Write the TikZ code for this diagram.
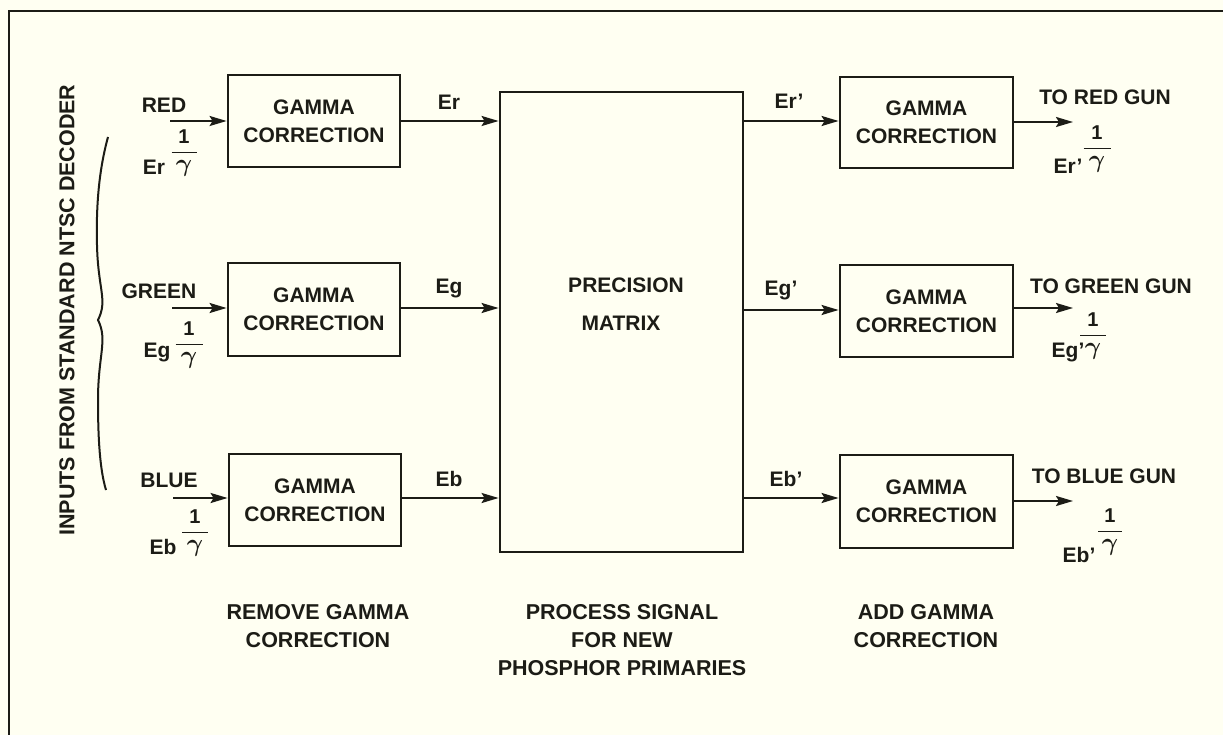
\documentclass[tikz,border=0pt]{standalone}
\usepackage{fontspec}
\usepackage{amsmath}
\setmainfont{Liberation Sans}
\usetikzlibrary{arrows.meta}
\definecolor{paper}{HTML}{FFFFF2}
\definecolor{ink}{HTML}{1C1C16}
\newcommand{\gden}{\mbox{\fontsize{26}{28}\selectfont$\boldsymbol\gamma$}}
\begin{document}
\begin{tikzpicture}[x=1pt,y=-1pt,
  every node/.style={font=\fontsize{21}{28}\selectfont\bfseries, text=ink, inner sep=0pt, align=center},
  blk/.style={draw=ink, line width=2.8pt},
  gam/.style={blk, minimum width=172pt, minimum height=92pt},
  sig/.style={draw=ink, line width=2.2pt, -{Stealth[length=17pt,width=10pt,inset=3pt]}},
  frc/.style={font=\fontsize{20}{22}\selectfont\bfseries},
  captxt/.style={font=\fontsize{21.5}{28}\selectfont\bfseries},
  frame/.style={draw=ink, line width=2.8pt}]
\useasboundingbox (0,0) rectangle (1223,735);
\fill[paper] (0,0) rectangle (1223,735);
\draw[frame] (9,735) -- (9,11) -- (1223,11);

% side label and brace
\node[rotate=90, font=\fontsize{21.5}{26}\selectfont\bfseries] (side) at (67,310) {INPUTS FROM STANDARD NTSC DECODER};
\draw[draw=ink, line width=2pt] (108,137) .. controls (99,170) and (96,205) .. (97,245)
  .. controls (98,290) and (108,300) .. (98,320)
  .. controls (108,340) and (98,355) .. (98,400)
  .. controls (98,440) and (100,470) .. (106,490);

% left gamma boxes
\node[gam] (g1) at (314,121) {GAMMA\\CORRECTION};
\node[gam, minimum height=93pt] (g2) at (314,309.5) {GAMMA\\CORRECTION};
\node[gam] (g3) at (315,500) {GAMMA\\CORRECTION};

% matrix
\node[blk, minimum width=243pt, minimum height=460pt] (mat) at (621.5,322) {};
\node (mtxt1) at (626,285) {PRECISION};
\node (mtxt2) at (621,323) {MATRIX};

% right gamma boxes
\node[gam, minimum width=173pt, minimum height=91pt] (h1) at (926.5,122.5) {GAMMA\\CORRECTION};
\node[gam, minimum width=173pt] (h2) at (926.5,311) {GAMMA\\CORRECTION};
\node[gam, minimum width=173pt, minimum height=93pt] (h3) at (926.5,501.5) {GAMMA\\CORRECTION};

% inputs
\coordinate (inR) at (170,121);
\coordinate (inG) at (172,308);
\coordinate (inB) at (173,498);
\draw[sig] (inR) -- (inR -| g1.west);
\draw[sig] (inG) -- (inG -| g2.west);
\draw[sig] (inB) -- (inB -| g3.west);
\node (lr) at (164,105) {RED};
\node (lg) at (159,291) {GREEN};
\node (lb) at (169,480) {BLUE};
\node (er0) at (154,167) {Er};
\node (eg0) at (157,353) {Eg};
\node (eb0) at (163,547) {Eb};
\node[frc] (fr1) at (184,153) {$\dfrac{\hbox to 25pt{\hss 1\hss}}{\gden}$};
\node[frc] (fr2) at (189,345) {$\dfrac{\hbox to 27pt{\hss 1\hss}}{\gden}$};
\node[frc] (fr3) at (195,533) {$\dfrac{\hbox to 26pt{\hss 1\hss}}{\gden}$};

% left boxes to matrix
\coordinate (mR) at (g1.east |- 0,121);
\coordinate (mG) at (g2.east |- 0,308);
\coordinate (mB) at (g3.east |- 0,498);
\draw[sig] (mR) -- (mR -| mat.west);
\draw[sig] (mG) -- (mG -| mat.west);
\draw[sig] (mB) -- (mB -| mat.west);
\node (er1) at (449,102) {Er};
\node (eg1) at (449,289) {Eg};
\node (eb1) at (449,479) {Eb};

% matrix to right boxes
\coordinate (nR) at (mat.east |- 0,121);
\coordinate (nG) at (mat.east |- 0,310);
\coordinate (nB) at (mat.east |- 0,498);
\draw[sig] (nR) -- (nR -| h1.west);
\draw[sig] (nG) -- (nG -| h2.west);
\draw[sig] (nB) -- (nB -| h3.west);
\node (er2) at (789,101) {Er’};
\node (eg2) at (781,291) {Eg’};
\node (eb2) at (786,479) {Eb’};

% outputs
\coordinate (oR) at (1073,122);
\coordinate (oG) at (1073,308);
\coordinate (oB) at (1073,501);
\draw[sig] (oR -| h1.east) -- (oR);
\draw[sig] (oG -| h2.east) -- (oG);
\draw[sig] (oB -| h3.east) -- (oB);
\node (tr) at (1105,97) {TO RED GUN};
\node (tg) at (1111,286) {TO GREEN GUN};
\node (tb) at (1104,476) {TO BLUE GUN};
\node (er3) at (1068,166) {Er’};
\node (eg3) at (1068,353) {Eg’};
\node (eb3) at (1079,555) {Eb’};
\node[frc] (fo1) at (1097,149) {$\dfrac{\hbox to 27pt{\hss 1\hss}}{\gden}$};
\node[frc] (fo2) at (1093,336) {$\dfrac{\hbox to 26pt{\hss 1\hss}}{\gden}$};
\node[frc] (fo3) at (1110,532) {$\dfrac{\hbox to 24pt{\hss 1\hss}}{\gden}$};

% bottom captions
\node[captxt] (c1) at (318,626) {REMOVE GAMMA\\CORRECTION};
\node[captxt] (c2) at (622,640) {PROCESS SIGNAL\\FOR NEW\\PHOSPHOR PRIMARIES};
\node[captxt] (c3) at (926,626) {ADD GAMMA\\CORRECTION};
\end{tikzpicture}
\end{document}
